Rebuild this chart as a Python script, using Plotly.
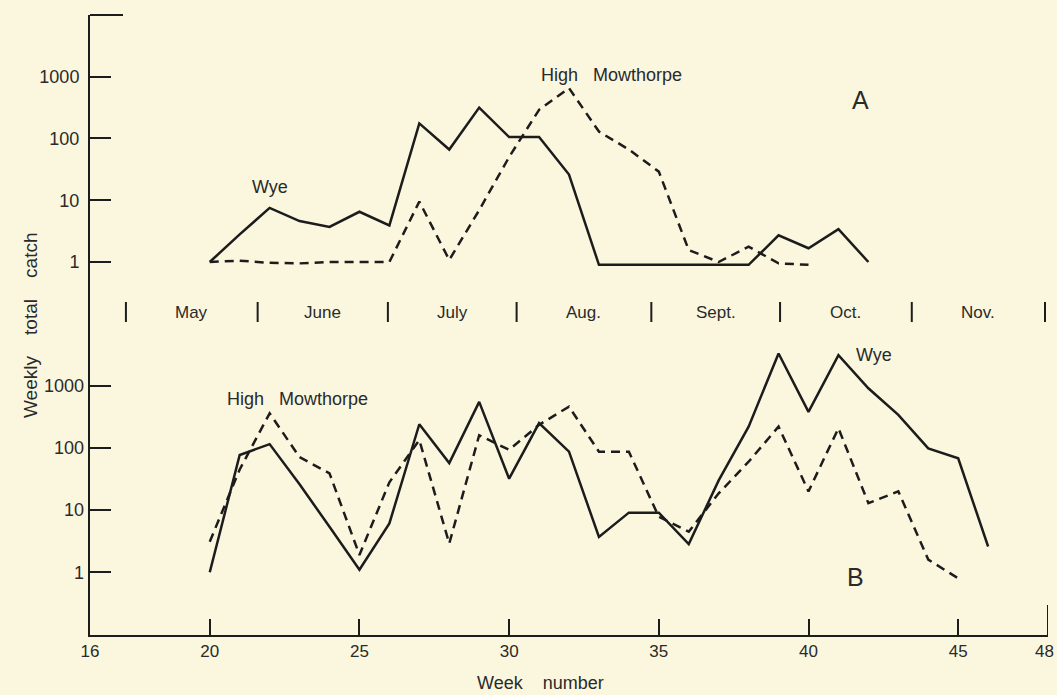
import plotly.graph_objects as go

# ---------------- data ----------------
weeks_A_wye = list(range(20, 43))
catch_A_wye = [1, 2.8, 7.5, 4.6, 3.7, 6.5, 3.9, 175, 66, 315, 105, 105, 26,
               0.9, 0.9, 0.9, 0.9, 0.9, 0.9, 2.7, 1.67, 3.4, 1]

weeks_A_hm = list(range(20, 41))
catch_A_hm = [1, 1.05, 0.97, 0.95, 1.0, 1.0, 1.0, 9.5, 1.08, 6.9, 50, 290, 650,
              129, 66, 29, 1.56, 1.0, 1.77, 0.95, 0.9]

weeks_B_wye = list(range(20, 47))
catch_B_wye = [1, 77, 115, 26, 5.4, 1.1, 6.1, 240, 57, 550, 32, 250, 87, 3.7,
               9.1, 9.1, 2.85, 30, 220, 3300, 380, 3100, 910, 340, 98, 68, 2.6]

weeks_B_hm = list(range(20, 46))
catch_B_hm = [3.1, 45, 360, 71, 39, 1.9, 28, 134, 2.9, 160, 93, 235, 460, 87,
              87, 7.8, 4.5, 18.6, 60, 220, 20, 207, 12.9, 20, 1.6, 0.8]

x_ticks = [16, 20, 25, 30, 35, 40, 45, 48]
x_ticktext = ["16", "20", "25", "30", "35", "40", "45", "48"]
y_ticks = [1, 10, 100, 1000]
y_ticktext = ["1", "10", "100", "1000"]

month_bounds = [17.2, 21.6, 25.95, 30.25, 34.75, 39.05, 43.45, 47.9]
month_names = ["May", "June", "July", "Aug.", "Sept.", "Oct.", "Nov."]

# ---------------- styling ----------------
W, H = 1057, 695
L, R, T, B = 90, 9, 15, 60
PW, PH = W - L - R, H - T - B
BG = "#fbf7df"
INK = "#1c1c1c"
TXT = "#2a2a2a"
FONT = "Liberation Sans"
SP3 = "&nbsp;" * 3
SP4 = "&nbsp;" * 4


def px(x):
    return (x - L) / PW


def py(y):
    return (H - B - y) / PH


fig = go.Figure()
solid = dict(color=INK, width=2.5)
dashed = dict(color=INK, width=2.5, dash="9px,6px")

fig.add_trace(go.Scatter(x=weeks_A_wye, y=catch_A_wye, mode="lines", line=solid,
                         yaxis="y", showlegend=False, name="Wye A"))
fig.add_trace(go.Scatter(x=weeks_A_hm, y=catch_A_hm, mode="lines", line=dashed,
                         yaxis="y", showlegend=False, name="High Mowthorpe A"))
fig.add_trace(go.Scatter(x=weeks_B_wye, y=catch_B_wye, mode="lines", line=solid,
                         yaxis="y2", showlegend=False, name="Wye B"))
fig.add_trace(go.Scatter(x=weeks_B_hm, y=catch_B_hm, mode="lines", line=dashed,
                         yaxis="y2", showlegend=False, name="High Mowthorpe B"))

# y ranges (log10) placing the panels
a_one, a_dec = 262.0, 61.8
b_one, b_dec = 572.3, 62.2
rangeA = [-(H - B - a_one) / a_dec, (a_one - T) / a_dec]
rangeB = [-(H - B - b_one) / b_dec, (b_one - T) / b_dec]

common_y = dict(type="log", tickvals=y_ticks, ticktext=y_ticktext,
                ticks="inside", ticklen=21, tickwidth=2, tickcolor=INK,
                showgrid=False, zeroline=False,
                tickfont=dict(family=FONT, size=18, color=TXT),
                ticklabelstandoff=5)

# last x tick label drawn as an annotation so it is not clipped at the edge
x_labels_axis = x_ticktext[:-1] + [""]

fig.update_layout(
    width=W, height=H,
    margin=dict(l=L, r=R, t=T, b=B, pad=0),
    paper_bgcolor=BG, plot_bgcolor=BG,
    xaxis=dict(range=[16, 48], tickvals=x_ticks, ticktext=x_labels_axis,
               ticks="inside", ticklen=16,
               tickwidth=2, tickcolor=INK, showline=True, linewidth=2,
               linecolor=INK, showgrid=False, zeroline=False,
               tickfont=dict(family=FONT, size=17, color=TXT)),
    yaxis=dict(range=rangeA, showline=True, linewidth=2, linecolor=INK,
               **common_y),
    yaxis2=dict(range=rangeB, overlaying="y", anchor="x", side="left",
                showline=False, **common_y),
)

shapes = []
# top bracket of y axis
shapes.append(dict(type="line", xref="paper", yref="paper",
                   x0=px(90), x1=px(123), y0=py(15), y1=py(15),
                   line=dict(color=INK, width=2)))
# right end mark at week 48
shapes.append(dict(type="line", xref="x", yref="paper",
                   x0=x_ticks[-1], x1=x_ticks[-1], y0=py(635), y1=py(605),
                   line=dict(color=INK, width=2)))
# month boundary bars
for mb in month_bounds:
    shapes.append(dict(type="line", xref="x", yref="paper",
                       x0=mb, x1=mb, y0=py(322), y1=py(302),
                       line=dict(color=INK, width=2)))
fig.update_layout(shapes=shapes)

ann = []
for i, name in enumerate(month_names):
    mid = (month_bounds[i] + month_bounds[i + 1]) / 2
    ann.append(dict(x=mid, y=py(312), xref="x", yref="paper", text=name,
                    xanchor="center", yanchor="middle",
                    showarrow=False, font=dict(family=FONT, size=17, color=TXT)))


def label(text, x, y, size=18, xanchor="center"):
    ann.append(dict(x=px(x), y=py(y), xref="paper", yref="paper", text=text,
                    xanchor=xanchor, yanchor="middle",
                    showarrow=False, font=dict(family=FONT, size=size, color=TXT)))


label(x_ticktext[-1], 1056, 651, 17, xanchor="right")
label("Wye", 270, 187)
label("High" + SP3 + "Mowthorpe", 611, 75)
label("A", 860, 100, 25)
label("High" + SP3 + "Mowthorpe", 297, 399)
label("Wye", 874, 355)
label("B", 855, 577, 25)
label("Week" + SP4 + "number", 540, 683)
ann.append(dict(x=px(30), y=py(325), xref="paper", yref="paper",
                text="Weekly" + SP4 + "total" + SP4 + "catch",
                textangle=-90, showarrow=False,
                xanchor="center", yanchor="middle",
                font=dict(family=FONT, size=19, color=TXT)))
fig.update_layout(annotations=ann)

fig.write_html("out.html")
